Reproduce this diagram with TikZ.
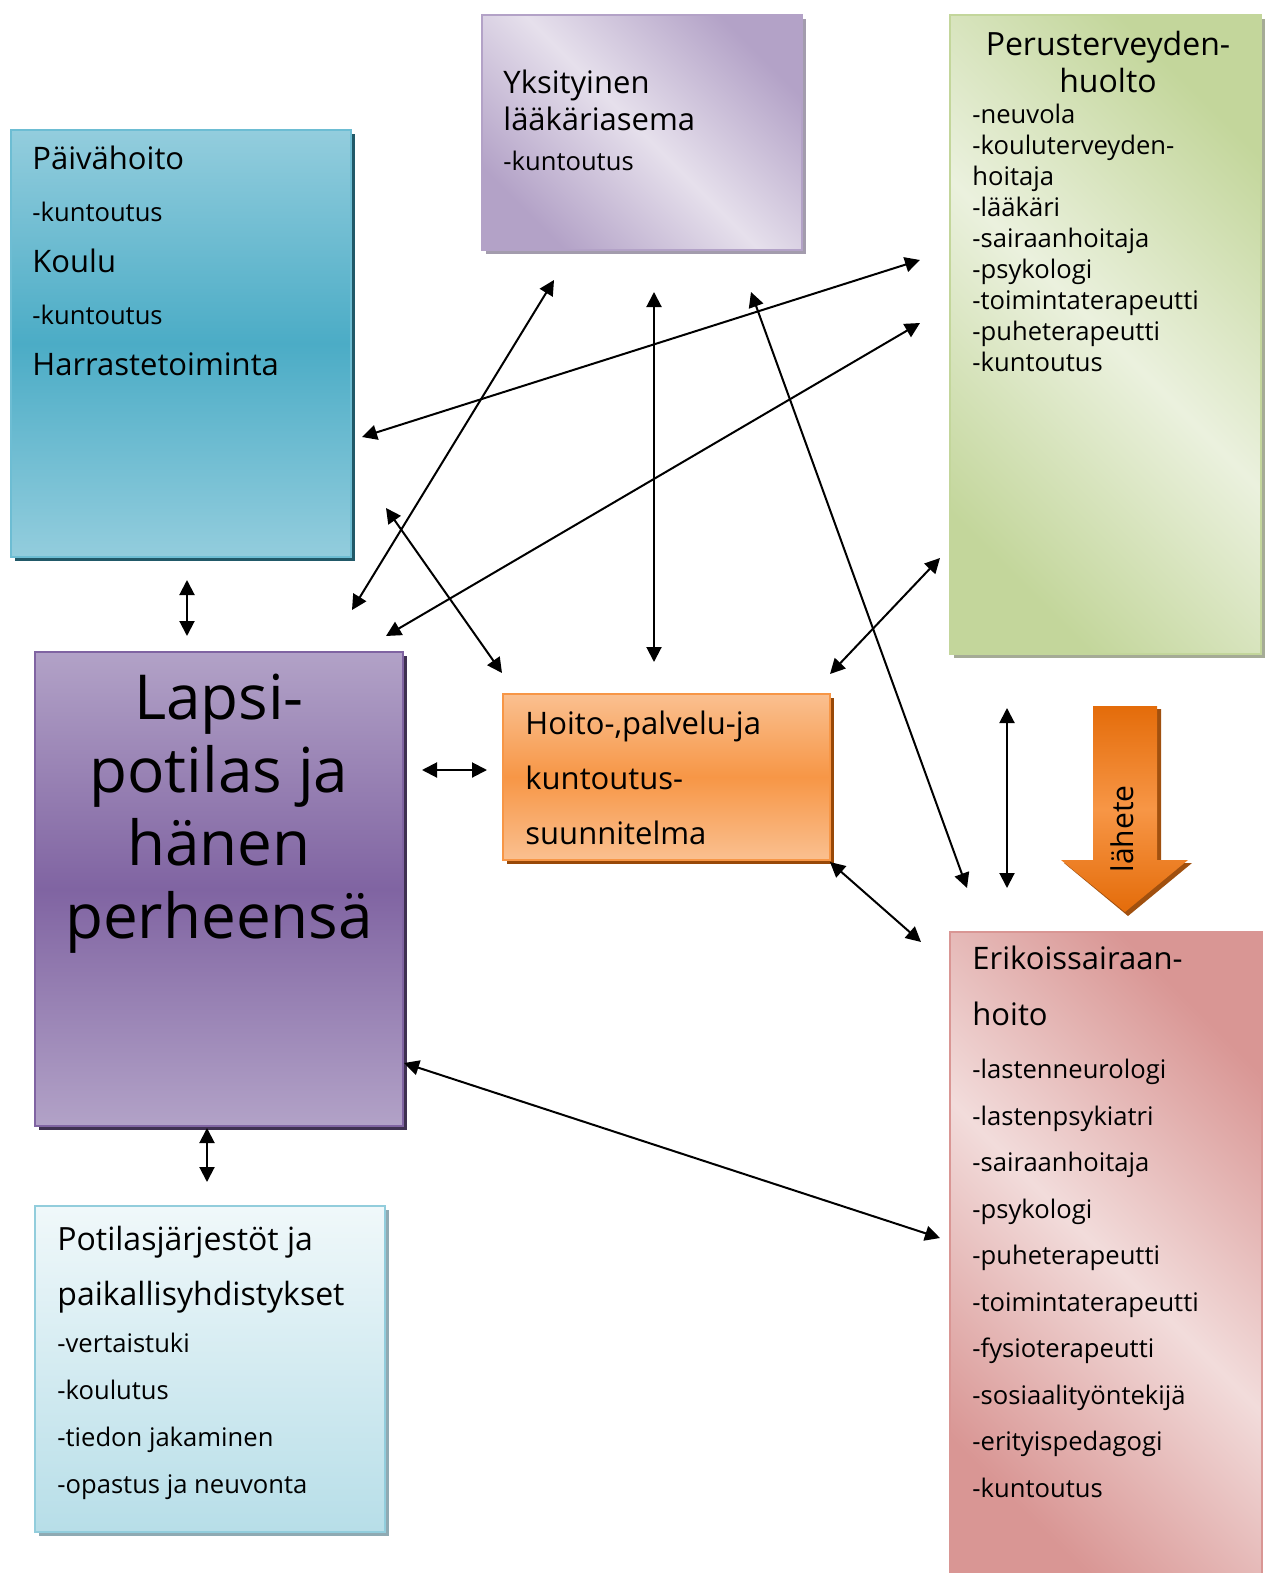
\documentclass[tikz,border=0pt]{standalone}
\usepackage{fontspec}
\setmainfont{Open Sans}
\usetikzlibrary{arrows.meta,fit,shadows}

\definecolor{dayLight}{HTML}{93CDDD}
\definecolor{dayDark}{HTML}{4BACC6}
\definecolor{dayEdge}{HTML}{6DBDD3}
\definecolor{dayShadow}{HTML}{215968}
\definecolor{privLight}{HTML}{E6E0EC}
\definecolor{privDark}{HTML}{B3A2C7}
\definecolor{privShadow}{HTML}{A39CAD}
\definecolor{primLight}{HTML}{EBF1DE}
\definecolor{primDark}{HTML}{C3D69B}
\definecolor{primShadow}{HTML}{A5AB96}
\definecolor{childLight}{HTML}{B2A2C7}
\definecolor{childDark}{HTML}{8064A2}
\definecolor{childShadow}{HTML}{3F3151}
\definecolor{planLight}{HTML}{FAC090}
\definecolor{planDark}{HTML}{F79646}
\definecolor{planShadow}{HTML}{984807}
\definecolor{specLight}{HTML}{F2DCDB}
\definecolor{specDark}{HTML}{D99694}
\definecolor{assocLight}{HTML}{F0F8FA}
\definecolor{assocDark}{HTML}{B7DEE8}
\definecolor{assocEdge}{HTML}{92CDDC}
\definecolor{assocShadow}{HTML}{8FAAB3}
\definecolor{refDark}{HTML}{E46C0A}
\definecolor{refShadow}{HTML}{A0500F}

\newcommand{\headsz}{\fontsize{15.5pt}{15.5pt}\selectfont}
\newcommand{\itemsz}{\fontsize{12.8pt}{12.8pt}\selectfont}

\tikzset{
  box/.style={inner sep=0pt, line width=1pt},
  txt/.style={inner sep=0pt, anchor=north west, align=left},
  link/.style={{Triangle[length=7.5pt,width=7.5pt]}-{Triangle[length=7.5pt,width=7.5pt]}, line width=1pt},
}

\begin{document}
\begin{tikzpicture}[x=0.5pt,y=-0.5pt]
\useasboundingbox (0,0) rectangle (1265,1573);

% boxes
\node[box, fit={(11,130) (351,557)}, draw=dayEdge,
  top color=dayLight, bottom color=dayLight, middle color=dayDark,
  drop shadow={fill=dayShadow, opacity=1, shadow xshift=2pt, shadow yshift=-2pt}] (day) {};
\node[box, fit={(482,15) (802,250)}, draw=privDark,
  top color=privDark, bottom color=privDark, middle color=privLight, shading angle=-45,
  drop shadow={fill=privShadow, opacity=1, shadow xshift=2pt, shadow yshift=-2pt}] (priv) {};
\node[box, fit={(950,15) (1261,654)}, draw=primDark,
  top color=primDark, bottom color=primDark, middle color=primLight, shading angle=-45,
  drop shadow={fill=primShadow, opacity=1, shadow xshift=2pt, shadow yshift=-2pt}] (prim) {};
\node[box, fit={(35,652) (403,1126)}, draw=childDark,
  top color=childLight, bottom color=childLight, middle color=childDark,
  drop shadow={fill=childShadow, opacity=1, shadow xshift=2pt, shadow yshift=-2pt}] (child) {};
\node[box, fit={(503,694) (830,860)}, draw=planDark,
  top color=planLight, bottom color=planLight, middle color=planDark,
  drop shadow={fill=planShadow, opacity=1, shadow xshift=2pt, shadow yshift=-2pt}] (plan) {};
\node[box, fit={(950,932) (1262,1580)}, draw=specDark,
  top color=specDark, bottom color=specDark, middle color=specLight, shading angle=-45] (spec) {};
\node[box, fit={(35,1206) (385,1532)}, draw=assocEdge,
  top color=assocLight, bottom color=assocDark,
  drop shadow={fill=assocShadow, opacity=1, shadow xshift=2pt, shadow yshift=-2pt}] (assoc) {};

% referral arrow
\fill[refShadow] (1097,709) -- (1161,709) -- (1161,863) -- (1192,863) -- (1128,916)
  -- (1064,863) -- (1097,863) -- cycle;
\path[top color=refDark, bottom color=refDark, middle color=planDark]
  (1093,706) -- (1157,706) -- (1157,860) -- (1188,860) -- (1125,912)
  -- (1061,860) -- (1093,860) -- cycle;
\node[rotate=90, inner sep=0pt, font=\fontsize{15pt}{15pt}\selectfont] (refT) at (1122,829) {lähete};

% texts
\node[txt, font=\fontsize{15.5pt}{25.75pt}\selectfont] (dayT) at (32,146)
  {Päivähoito\\{\itemsz -kuntoutus}\\Koulu\\{\itemsz -kuntoutus}\\Harrastetoiminta};
\node[txt, font=\fontsize{15.5pt}{18.5pt}\selectfont] (privT) at (503,70)
  {Yksityinen\\lääkäriasema\\[1.5pt]{\itemsz -kuntoutus}};
\node[inner sep=0pt, anchor=north, align=center, font=\fontsize{16pt}{18.5pt}\selectfont] (primT) at (1108,31)
  {Perusterveyden-\\huolto};
\node[txt, font=\fontsize{12.8pt}{15.5pt}\selectfont] (primL) at (972,104)
  {-neuvola\\-kouluterveyden-\\hoitaja\\-lääkäri\\-sairaanhoitaja\\-psykologi\\-toimintaterapeutti\\-puheterapeutti\\-kuntoutus};
\node[inner sep=0pt, anchor=north, align=center, font=\fontsize{31pt}{36.5pt}\selectfont] (childT) at (219,674)
  {Lapsi-\\potilas ja\\hänen\\perheensä};
\node[txt, font=\fontsize{15.5pt}{27.5pt}\selectfont] (planT) at (525,711)
  {Hoito-,palvelu-ja\\kuntoutus-\\suunnitelma};
\node[txt, font=\fontsize{12.8pt}{23.25pt}\selectfont] (specT) at (972,946)
  {{\headsz Erikoissairaan-}\\[4.75pt]{\headsz hoito}\\[3.25pt]-lastenneurologi\\-lastenpsykiatri\\-sairaanhoitaja\\-psykologi\\-puheterapeutti\\-toimintaterapeutti\\-fysioterapeutti\\-sosiaalityöntekijä\\-erityispedagogi\\-kuntoutus};
\node[txt, font=\fontsize{12.8pt}{23.5pt}\selectfont] (assocT) at (57,1226)
  {{\fontsize{16pt}{16pt}\selectfont Potilasjärjestöt ja}\\[4pt]{\fontsize{16pt}{16pt}\selectfont paikallisyhdistykset}\\-vertaistuki\\-koulutus\\-tiedon jakaminen\\-opastus ja neuvonta};

% arrow ends
\coordinate (dayS) at (187,580);   \coordinate (childN) at (187,636);
\coordinate (dayE) at (362,437);   \coordinate (primW) at (920,260);
\coordinate (childNE) at (352,610); \coordinate (privSW) at (554,280);
\coordinate (childNE2) at (386,636); \coordinate (primW2) at (920,323);
\coordinate (daySE) at (386,508);  \coordinate (planNW) at (502,673);
\coordinate (privS) at (654,292);  \coordinate (planN) at (654,662);
\coordinate (privSE) at (751,292); \coordinate (specN) at (967,888);
\coordinate (primSW) at (940,558); \coordinate (planNE) at (830,674);
\coordinate (primS) at (1007,708); \coordinate (specN2) at (1007,888);
\coordinate (childE) at (422,770); \coordinate (planW) at (487,770);
\coordinate (planSE) at (830,862); \coordinate (specNW) at (921,942);
\coordinate (childE2) at (404,1063); \coordinate (specW) at (940,1238);
\coordinate (childS) at (207,1128); \coordinate (assocN) at (207,1182);

\draw[link] (dayS) -- (childN);
\draw[link] (dayE) -- (primW);
\draw[link] (childNE) -- (privSW);
\draw[link] (childNE2) -- (primW2);
\draw[link] (daySE) -- (planNW);
\draw[link] (privS) -- (planN);
\draw[link] (privSE) -- (specN);
\draw[link] (primSW) -- (planNE);
\draw[link] (primS) -- (specN2);
\draw[link] (childE) -- (planW);
\draw[link] (planSE) -- (specNW);
\draw[link] (childE2) -- (specW);
\draw[link] (childS) -- (assocN);
\end{tikzpicture}
\end{document}
